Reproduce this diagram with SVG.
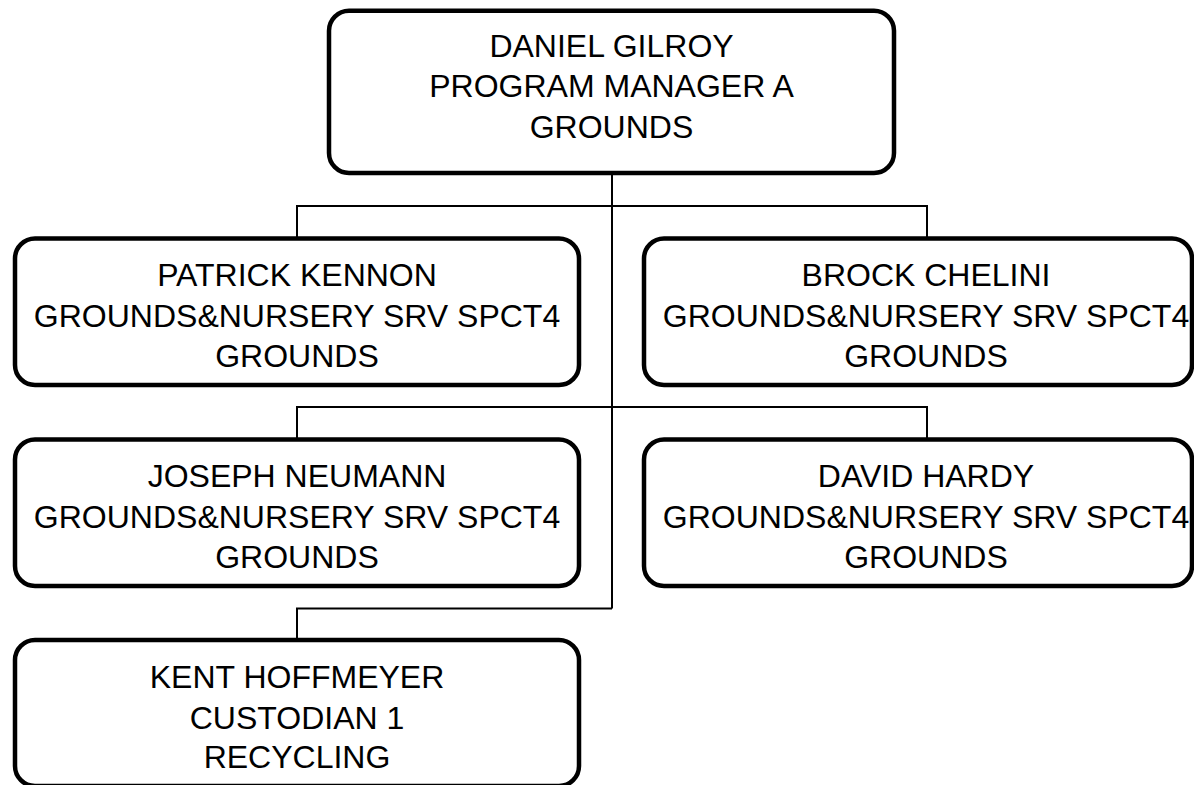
<svg xmlns="http://www.w3.org/2000/svg" width="1194" height="785" viewBox="0 0 1194 785">
<style>
.box{fill:#fff;stroke:#000;stroke-width:4.5}
.con{fill:none;stroke:#000;stroke-width:2}
.t{font-family:"Liberation Sans",Arial,sans-serif;font-size:32px;fill:#000;text-anchor:middle}
</style>
<rect width="1194" height="785" fill="#fff"/>
<g id="connectors">
<path class="con" d="M612 173V608.5"/>
<path class="con" d="M297 238.5V206H927V238.5"/>
<path class="con" d="M297 439.5V407H927V439.5"/>
<path class="con" d="M297 640V608.5H612"/>
</g>
<g id="n-gilroy">
<rect class="box" x="329" y="10.7" width="565" height="162.3" rx="20"/>
<text class="t" x="611.5" y="56.5">DANIEL GILROY</text>
<text class="t" x="611.5" y="97">PROGRAM MANAGER A</text>
<text class="t" x="611.5" y="137.5">GROUNDS</text>
</g>
<g id="n-kennon">
<rect class="box" x="15" y="238.5" width="564" height="146.5" rx="20"/>
<text class="t" x="297" y="286">PATRICK KENNON</text>
<text class="t" x="297" y="327">GROUNDS&amp;NURSERY SRV SPCT4</text>
<text class="t" x="297" y="367">GROUNDS</text>
</g>
<g id="n-chelini">
<rect class="box" x="644" y="238.5" width="548" height="146.5" rx="20"/>
<text class="t" x="926" y="286">BROCK CHELINI</text>
<text class="t" x="926" y="327">GROUNDS&amp;NURSERY SRV SPCT4</text>
<text class="t" x="926" y="367">GROUNDS</text>
</g>
<g id="n-neumann">
<rect class="box" x="15" y="439.5" width="564" height="146.5" rx="20"/>
<text class="t" x="297" y="487">JOSEPH NEUMANN</text>
<text class="t" x="297" y="528">GROUNDS&amp;NURSERY SRV SPCT4</text>
<text class="t" x="297" y="568">GROUNDS</text>
</g>
<g id="n-hardy">
<rect class="box" x="644" y="439.5" width="548" height="146.5" rx="20"/>
<text class="t" x="926" y="487">DAVID HARDY</text>
<text class="t" x="926" y="528">GROUNDS&amp;NURSERY SRV SPCT4</text>
<text class="t" x="926" y="568">GROUNDS</text>
</g>
<g id="n-hoffmeyer">
<rect class="box" x="15" y="640" width="564" height="146" rx="20"/>
<text class="t" x="297" y="688">KENT HOFFMEYER</text>
<text class="t" x="297" y="729">CUSTODIAN 1</text>
<text class="t" x="297" y="768">RECYCLING</text>
</g>
</svg>
